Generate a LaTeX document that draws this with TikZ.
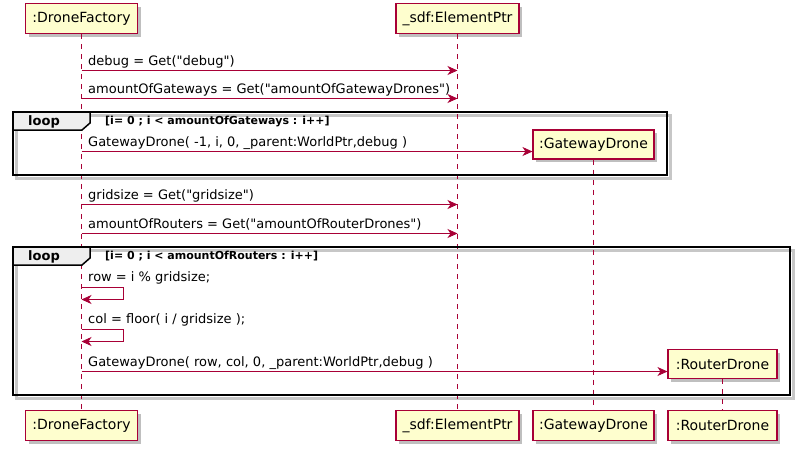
\documentclass[tikz,border=0pt]{standalone}
\usepackage{fontspec}
\setmainfont{DejaVu Sans}[Ligatures=TeXOff]
\usetikzlibrary{arrows.meta,shadows}
\definecolor{umlred}{HTML}{A80036}
\definecolor{umlfill}{HTML}{FEFECE}
\definecolor{tabfill}{HTML}{EEEEEE}
\tikzset{
  part/.style={draw=umlred, fill=umlfill, line width=1.1pt, minimum height=30pt, inner sep=0pt,
    font=\fontsize{14}{16}\selectfont,
    drop shadow={shadow xshift=3pt, shadow yshift=-3pt, opacity=0.25, fill=black}},
  life/.style={draw=umlred, line width=1pt, dash pattern=on 5pt off 5pt},
  msg/.style={color=umlred, line width=0.9pt, -{Stealth[length=10pt,width=9pt,inset=3pt]}},
  msgtxt/.style={anchor=base west, inner sep=0pt, text=black, font=\fontsize{13}{15}\selectfont},
  frame/.style={draw=black, line width=2pt},
  fshadow/.style={draw=black!22, line width=3pt},
  tab/.style={draw=black, fill=tabfill, line width=1.5pt},
  looptxt/.style={anchor=base west, inner sep=0pt, font=\bfseries\fontsize{13}{15}\selectfont},
  condtxt/.style={anchor=base west, inner sep=0pt, font=\bfseries\fontsize{11}{13}\selectfont}
}
\begin{document}
\begin{tikzpicture}[x=1pt, y=-1pt]
\useasboundingbox (0,0) rectangle (799,451);

% participants
\node[part, minimum width=112pt] (dfTop) at (81.5,18.5) {:DroneFactory};
\node[part, minimum width=123pt] (epTop) at (457.5,18.5) {\_sdf:ElementPtr};
\node[part, minimum width=112pt] (dfBot) at (81.5,425.5) {:DroneFactory};
\node[part, minimum width=123pt] (epBot) at (457.5,425.5) {\_sdf:ElementPtr};
\node[part, minimum width=121pt] (gdBot) at (593.5,425.5) {:GatewayDrone};
\node[part, minimum width=109pt] (rdBot) at (722.5,425.5) {:RouterDrone};

% loop frame shadows
\draw[fshadow] (16,115) rectangle (670,178);
\draw[fshadow] (16,250) rectangle (793,398);

% lifelines
\draw[life] (dfTop.south) -- (dfBot.north);
\draw[life] (epTop.south) -- (epBot.north);

% created participants
\node[part, minimum width=121pt, minimum height=29pt] (gdBox) at (593.5,144.5) {:GatewayDrone};
\node[part, minimum width=109pt, minimum height=29pt] (rdBox) at (722.5,364) {:RouterDrone};
\draw[life] (gdBox.south) -- (gdBot.north);
\draw[life] (rdBox.south) -- (rdBot.north);

% messages
\node[msgtxt] (t1) at (88,65) {debug = Get("debug")};
\draw[msg] (dfTop.south |- 0,70.5) -- (epTop.south |- 0,70.5);
\node[msgtxt] (t2) at (88,93) {amountOfGateways = Get("amountOfGatewayDrones")};
\draw[msg] (dfTop.south |- 0,98.5) -- (epTop.south |- 0,98.5);

% loop 1
\draw[frame] (13,112) rectangle (667,175);
\draw[tab] (13,112) -- (90,112) -- (90,123) -- (82,130) -- (13,130) -- cycle;
\node[looptxt] (l1) at (28,125.5) {loop};
\node[condtxt] (c1) at (105,124) {[i= 0 ; i < amountOfGateways : i++]};
\node[msgtxt] (t3) at (88,146) {GatewayDrone( -1, i, 0, \_parent:WorldPtr,debug )};
\draw[msg] (dfTop.south |- 0,151.5) -- (gdBox.west |- 0,151.5);

\node[msgtxt] (t4) at (88,199) {gridsize = Get("gridsize")};
\draw[msg] (dfTop.south |- 0,204.5) -- (epTop.south |- 0,204.5);
\node[msgtxt] (t5) at (88,228) {amountOfRouters = Get("amountOfRouterDrones")};
\draw[msg] (dfTop.south |- 0,233.5) -- (epTop.south |- 0,233.5);

% loop 2
\draw[frame] (13,247) rectangle (790,395);
\draw[tab] (13,247) -- (90,247) -- (90,258) -- (82,265) -- (13,265) -- cycle;
\node[looptxt] (l2) at (28,260.5) {loop};
\node[condtxt] (c2) at (105,259) {[i= 0 ; i < amountOfRouters : i++]};

\node[msgtxt] (t6) at (88,281) {row = i \% gridsize;};
\draw[msg] (dfTop.south |- 0,287.5) -- (123.5,287.5) -- (123.5,299.5) -- (dfTop.south |- 0,299.5);
\node[msgtxt] (t7) at (88,323.5) {col = floor( i / gridsize );};
\draw[msg] (dfTop.south |- 0,329.5) -- (123.5,329.5) -- (123.5,341.5) -- (dfTop.south |- 0,341.5);
\node[msgtxt] (t8) at (88,366) {GatewayDrone( row, col, 0, \_parent:WorldPtr,debug )};
\draw[msg] (dfTop.south |- 0,371.5) -- (rdBox.west |- 0,371.5);
\end{tikzpicture}
\end{document}
